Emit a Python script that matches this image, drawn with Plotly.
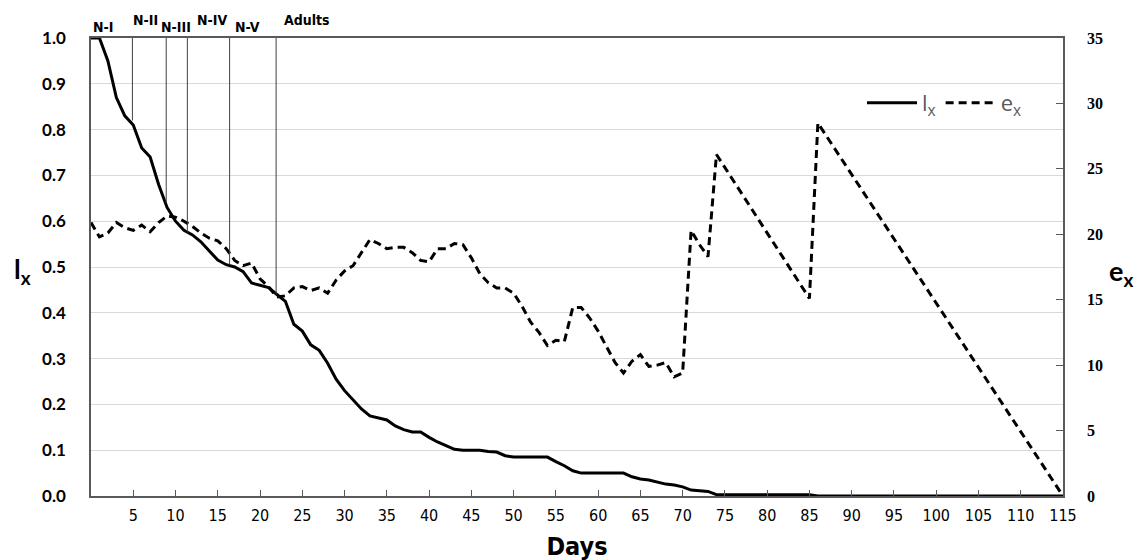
import plotly.graph_objects as go

# ---- data ----
lx_days = [0, 1, 2, 3, 4, 5, 6, 7, 8, 9, 10, 11, 12, 13, 14, 15, 16, 17, 18, 19,
           20, 21, 22, 23, 24, 25, 26, 27, 28, 29, 30, 31, 32, 33, 34, 35, 36, 37,
           38, 39, 40, 41, 42, 43, 44, 45, 46, 47, 48, 49, 50, 51, 52, 53, 54, 55,
           56, 57, 58, 59, 60, 61, 62, 63, 64, 65, 66, 67, 68, 69, 70, 71, 72, 73,
           74, 80, 85, 86, 115]
lx_vals = [1.0, 1.0, 0.95, 0.87, 0.83, 0.81, 0.76, 0.74, 0.68, 0.63, 0.60, 0.58,
           0.57, 0.555, 0.535, 0.515, 0.505, 0.50, 0.49, 0.465, 0.46, 0.455, 0.44,
           0.425, 0.375, 0.36, 0.33, 0.318, 0.29, 0.255, 0.23, 0.21, 0.19, 0.175,
           0.17, 0.166, 0.153, 0.145, 0.14, 0.14, 0.128, 0.118, 0.11, 0.102, 0.10,
           0.10, 0.10, 0.097, 0.096, 0.088, 0.085, 0.085, 0.085, 0.085, 0.085,
           0.075, 0.066, 0.055, 0.05, 0.05, 0.05, 0.05, 0.05, 0.05, 0.042, 0.037,
           0.035, 0.03, 0.026, 0.024, 0.02, 0.013, 0.012, 0.01, 0.003, 0.003,
           0.003, 0.0, 0.0]

ex_days = [0, 1, 2, 3, 4, 5, 6, 7, 8, 9, 10, 11, 12, 13, 14, 15, 16, 17, 18, 19,
           20, 21, 22, 23, 24, 25, 26, 27, 28, 29, 30, 31, 32, 33, 34, 35, 36, 37,
           38, 39, 40, 41, 42, 43, 44, 45, 46, 47, 48, 49, 50, 51, 52, 53, 54, 55,
           56, 57, 58, 59, 60, 61, 62, 63, 64, 65, 66, 67, 68, 69, 70, 71, 72, 73,
           74, 85, 86, 115]
ex_vals = [20.9, 19.8, 20.1, 20.9, 20.5, 20.3, 20.7, 20.2, 20.9, 21.4, 21.3, 21.0,
           20.6, 20.1, 19.7, 19.5, 18.9, 18.0, 17.6, 17.8, 16.6, 16.0, 15.2, 15.3,
           15.9, 16.0, 15.7, 15.9, 15.5, 16.5, 17.2, 17.6, 18.6, 19.6, 19.3, 18.9,
           19.0, 19.0, 18.6, 18.0, 17.9, 18.9, 18.9, 19.3, 19.2, 18.2, 17.0, 16.3,
           15.9, 15.9, 15.5, 14.5, 13.3, 12.5, 11.5, 11.9, 11.8, 14.4, 14.4, 13.6,
           12.6, 11.4, 10.2, 9.4, 10.3, 10.8, 9.9, 10.0, 10.2, 9.1, 9.4, 20.3, 19.2,
           18.3, 26.1, 15.1, 28.5, 0.0]

stage_names = ["N-I", "N-II", "N-III", "N-IV", "N-V", "Adults"]
stage_label_days = [1.4, 6.4, 10.1, 14.3, 18.5, 25.6]
stage_label_levels = [1.024, 1.039, 1.024, 1.039, 1.024, 1.039]
stage_bounds = [4.9, 8.9, 11.4, 16.4, 21.9]
stage_bound_lx = [0.82, 0.64, 0.575, 0.505, 0.44]

x_ticks = list(range(5, 116, 5))
lx_ticks = [round(i * 0.1, 1) for i in range(11)]
ex_ticks = list(range(0, 36, 5))

NARROW = "Liberation Sans Narrow, DejaVu Sans Condensed, sans-serif"
AXIS_COL = "#595959"
X_MAX = 115

fig = go.Figure()
fig.add_trace(go.Scatter(x=lx_days, y=lx_vals, mode="lines", name="l<sub>x</sub>",
                         line=dict(color="black", width=3), yaxis="y"))
fig.add_trace(go.Scatter(x=ex_days, y=ex_vals, mode="lines", name="e<sub>x</sub>",
                         line=dict(color="black", width=3, dash="8px,5px"), yaxis="y2"))

shapes = []
for d, v in zip(stage_bounds, stage_bound_lx):
    shapes.append(dict(type="line", xref="x", yref="y", x0=d, x1=d, y0=v, y1=1.0,
                       line=dict(color="#404040", width=1)))

annotations = []
for name, d, lev in zip(stage_names, stage_label_days, stage_label_levels):
    annotations.append(dict(x=d / X_MAX, y=lev, xref="paper", yref="paper",
                            text=name, showarrow=False,
                            font=dict(family=NARROW, size=14, color="black", weight=600),
                            xanchor="center", yanchor="middle"))

PLOT_L, PLOT_T, PLOT_W, PLOT_H = 91, 38, 972, 458
for txt, px, py in [("<b>l<sub>x</sub></b>", 22, 270), ("<b>e<sub>x</sub></b>", 1121, 272)]:
    annotations.append(dict(x=(px - PLOT_L) / PLOT_W, y=(PLOT_T + PLOT_H - py) / PLOT_H,
                            xref="paper", yref="paper", text=txt, showarrow=False,
                            font=dict(family="Lato, sans-serif", size=27, color="black"),
                            xanchor="center", yanchor="middle"))

OFF = 8  # page body margin
fig.update_layout(
    width=1142, height=560,
    margin=dict(l=PLOT_L - OFF, r=1142 - (PLOT_L - OFF) - PLOT_W, t=PLOT_T - OFF,
                b=560 - (PLOT_T - OFF) - PLOT_H, pad=0),
    paper_bgcolor="white", plot_bgcolor="white",
    showlegend=True,
    legend=dict(orientation="h", x=(862 - PLOT_L) / PLOT_W, y=(PLOT_T + PLOT_H - 103) / PLOT_H,
                xanchor="left", yanchor="middle", bgcolor="rgba(0,0,0,0)",
                font=dict(family="Open Sans, sans-serif", size=22, color="#595959"),
                itemwidth=50, tracegroupgap=0),
    xaxis=dict(range=[0, X_MAX], tickvals=x_ticks, ticktext=[str(t) for t in x_ticks],
               showgrid=False, zeroline=False, showline=True, linecolor=AXIS_COL,
               linewidth=1.5, mirror=True, ticks="inside", ticklen=6, tickcolor=AXIS_COL,
               ticklabelstandoff=4,
               tickfont=dict(family=NARROW, size=16, color="black"),
               title=dict(text="<b>Days</b>", font=dict(family=NARROW, size=25, color="black"),
                          standoff=14)),
    yaxis=dict(range=[0, 1.0], tickvals=lx_ticks, tickformat=".1f",
               showgrid=True, gridcolor="#d9d9d9", gridwidth=1, zeroline=False,
               showline=True, linecolor=AXIS_COL, linewidth=1.5, ticks="",
               ticklabelstandoff=20,
               tickfont=dict(family="Lato, sans-serif", size=17, color="black", weight="bold")),
    yaxis2=dict(range=[0, 35], tickvals=ex_ticks, overlaying="y", side="right",
                showgrid=False, zeroline=False, showline=True, linecolor=AXIS_COL,
                linewidth=1.5, ticks="inside", ticklen=7, tickcolor=AXIS_COL,
                ticklabelstandoff=19,
                tickfont=dict(family="Liberation Serif, serif", size=16, color="black",
                              weight="bold")),
    shapes=shapes,
    annotations=annotations,
)

fig.write_html("out.html")
